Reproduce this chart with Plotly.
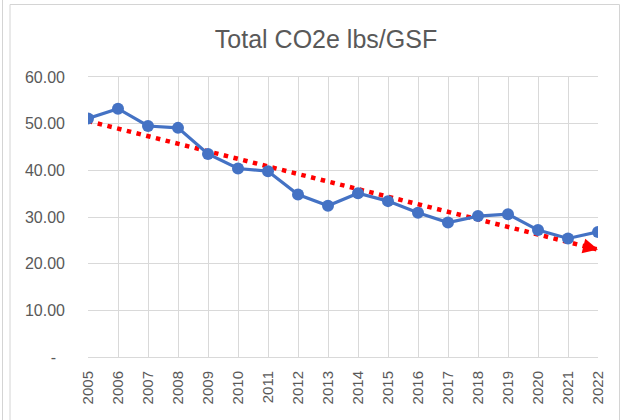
import numpy as np
import plotly.graph_objects as go

years = list(range(2005, 2023))
co2e_lbs_per_gsf = [51.1, 53.2, 49.5, 49.1, 43.5, 40.4, 39.8, 34.8, 32.4,
                    35.1, 33.4, 30.9, 28.8, 30.2, 30.6, 27.2, 25.4, 26.8]
y_tick_vals = [0, 10, 20, 30, 40, 50, 60]
y_tick_text = ["-\u00a0\u00a0", "10.00", "20.00", "30.00", "40.00", "50.00", "60.00"]
title_text = "Total CO2e lbs/GSF"

# linear trendline (as Excel's linear trendline)
slope, intercept = np.polyfit(years, co2e_lbs_per_gsf, 1)
trend = [slope * x + intercept for x in years]

BLUE = "#4472C4"
RED = "#FF0000"
GREY_TXT = "#595959"
GRID = "#D9D9D9"
FONT = "Liberation Sans"

fig = go.Figure()
fig.add_trace(go.Scatter(
    x=years, y=trend, mode="lines",
    line=dict(color=RED, width=4.5, dash="4.5px,5.5px"),
    hoverinfo="skip", showlegend=False,
))
fig.add_trace(go.Scatter(
    x=years, y=co2e_lbs_per_gsf, mode="lines+markers",
    line=dict(color=BLUE, width=3.2),
    marker=dict(color=BLUE, size=12),
    showlegend=False,
))

# arrowhead at end of trendline
fig.add_annotation(
    x=years[-1], y=trend[-1], ax=-16, ay=-4,
    xref="x", yref="y",
    text="", showarrow=True, arrowhead=2, arrowsize=1.5, arrowwidth=2,
    arrowcolor=RED, standoff=0,
)

# chart border
fig.add_shape(type="rect", xref="paper", yref="paper",
              x0=(10 - 88) / 510, x1=(619.5 - 88) / 510,
              y0=(357 - 430) / 280, y1=(357 - 4.5) / 280,
              line=dict(color="#D4D4D4", width=1), layer="below")
fig.add_shape(type="line", xref="paper", yref="paper",
              x0=(2.5 - 88) / 510, x1=(2.5 - 88) / 510,
              y0=(357 - 430) / 280, y1=(357 + 10) / 280,
              line=dict(color="#D4D4D4", width=1), layer="below")

fig.update_layout(
    width=621, height=420,
    margin=dict(l=88, r=23, t=77, b=63),
    paper_bgcolor="white", plot_bgcolor="white",
    font=dict(family=FONT, color=GREY_TXT, size=16),
    title=dict(text=title_text, x=326 / 621, xanchor="center",
               y=1 - 39 / 420, yref="container", yanchor="middle",
               font=dict(family=FONT, size=25, color=GREY_TXT)),
)
fig.update_xaxes(
    range=[2005, 2022], tickvals=years, ticktext=[str(y) for y in years],
    tickangle=-90, showgrid=True, gridcolor=GRID, gridwidth=1,
    showline=True, linecolor=GRID, linewidth=1, mirror=True,
    ticks="", ticklabelstandoff=7, zeroline=False, automargin=False,
    tickfont=dict(family=FONT, size=15, color=GREY_TXT),
)
fig.update_yaxes(
    range=[0, 60], tickvals=y_tick_vals, ticktext=y_tick_text,
    showgrid=True, gridcolor=GRID, gridwidth=1,
    showline=False, ticks="", ticklabelstandoff=22, zeroline=False,
    automargin=False,
    tickfont=dict(family=FONT, size=16, color=GREY_TXT),
)

fig.write_html("out.html", config={"displayModeBar": False},
               post_script="document.body.style.margin='0';document.body.style.padding='0';")
